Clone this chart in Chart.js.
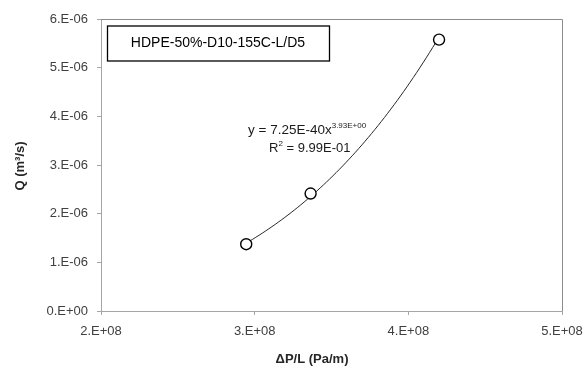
<!DOCTYPE html>
<html>
<head>
<meta charset="utf-8">
<script src="https://cdn.jsdelivr.net/npm/chart.js@4"></script>
<style>
  html, body { margin: 0; padding: 0; background: #fff; }
  #wrap { width: 583px; height: 367px; }
</style>
</head>
<body>
<div id="wrap"><canvas id="chart" width="583" height="367"></canvas></div>
<script>
// data
var pressureGrad = [2.945e8, 3.364e8, 4.200e8];   // ΔP/L (Pa/m)
var flowRate = [1.372e-6, 2.414e-6, 5.576e-6];     // Q (m3/s)
var xTicks = [2e8, 3e8, 4e8, 5e8];
var yTicks = [0, 1e-6, 2e-6, 3e-6, 4e-6, 5e-6, 6e-6];
var seriesLabel = 'HDPE-50%-D10-155C-L/D5';
var xTitle = 'ΔP/L (Pa/m)';
var yTitle = 'Q (m³/s)';
var eqText = 'y = 7.25E-40x';
var eqExp = '3.93E+00';
var r2Text = ' = 9.99E-01';

// power trendline (least squares in log-log, like the spreadsheet does)
var fitPower = function(xs, ys) {
  var n = xs.length, sx = 0, sy = 0, sxx = 0, sxy = 0;
  for (var i = 0; i < n; i++) {
    var lx = Math.log(xs[i]), ly = Math.log(ys[i]);
    sx += lx; sy += ly; sxx += lx * lx; sxy += lx * ly;
  }
  var b = (n * sxy - sx * sy) / (n * sxx - sx * sx);
  var a = Math.exp((sy - b * sx) / n);
  return { a: a, b: b };
};
var fit = fitPower(pressureGrad, flowRate);
var trend = [];
var x0 = pressureGrad[0], x1 = pressureGrad[pressureGrad.length - 1];
for (var k = 0; k <= 60; k++) {
  var xv = x0 + (x1 - x0) * k / 60;
  trend.push({ x: xv, y: fit.a * Math.pow(xv, fit.b) });
}

var points = pressureGrad.map(function(v, i) { return { x: v, y: flowRate[i] }; });

var sciLabel = function(v) {
  if (v === 0) return '0.E+00';
  var e = Math.floor(Math.log10(Math.abs(v)) + 1e-9);
  var m = Math.round(v / Math.pow(10, e));
  var ae = Math.abs(e);
  return m + '.E' + (e < 0 ? '-' : '+') + (ae < 10 ? '0' : '') + ae;
};

var tickColor = '#404040';
var axisColor = '#a6a6a6';
var baseFont = 'Liberation Sans';

var boxPlugin = {
  id: 'extras',
  beforeDatasetsDraw: function(chart) {
    var ctx = chart.ctx, ca = chart.chartArea;
    ctx.save();
    ctx.strokeStyle = '#8c8c8c';
    ctx.lineWidth = 1;
    ctx.beginPath();
    ctx.moveTo(Math.round(ca.left), Math.round(ca.top) + 0.5);
    ctx.lineTo(Math.round(ca.right) + 0.5, Math.round(ca.top) + 0.5);
    ctx.lineTo(Math.round(ca.right) + 0.5, Math.round(ca.bottom));
    ctx.stroke();
    ctx.restore();
  },
  afterDraw: function(chart) {
    var ctx = chart.ctx;
    ctx.save();
    // legend box
    ctx.strokeStyle = '#000';
    ctx.lineWidth = 1.3;
    ctx.strokeRect(107.5, 26, 222, 35);
    ctx.fillStyle = '#000';
    ctx.font = '14px "' + baseFont + '"';
    ctx.textAlign = 'center';
    ctx.textBaseline = 'middle';
    ctx.fillText(seriesLabel, 218, 43);

    // axis titles
    ctx.fillStyle = '#262626';
    ctx.font = 'bold 13px "' + baseFont + '"';
    ctx.fillText(xTitle, 312, 359);
    ctx.save();
    ctx.translate(20, 166);
    ctx.rotate(-Math.PI / 2);
    ctx.fillText(yTitle, 0, 0);
    ctx.restore();

    // trendline equation
    ctx.fillStyle = '#1a1a1a';
    ctx.textAlign = 'left';
    ctx.textBaseline = 'alphabetic';
    ctx.font = '13.5px "' + baseFont + '"';
    ctx.fillText(eqText, 248, 134);
    var w = ctx.measureText(eqText).width;
    ctx.font = '8px "' + baseFont + '"';
    ctx.fillText(eqExp, 248 + w, 128);
    ctx.font = '13px "' + baseFont + '"';
    ctx.fillText('R', 269, 152);
    var wr = ctx.measureText('R').width;
    ctx.font = '8px "' + baseFont + '"';
    ctx.fillText('2', 269 + wr, 146);
    var w2 = ctx.measureText('2').width;
    ctx.font = '13px "' + baseFont + '"';
    ctx.fillText(r2Text, 269 + wr + w2, 152);
    ctx.restore();
  }
};

var chart = new Chart(document.getElementById('chart'), {
  type: 'scatter',
  data: {
    datasets: [
      {
        label: 'points',
        data: points,
        pointStyle: 'circle',
        pointRadius: 5.5,
        pointHoverRadius: 5.5,
        pointBorderWidth: 1.4,
        pointBorderColor: '#000',
        pointBackgroundColor: '#fff',
        showLine: false,
        order: 1
      },
      {
        label: 'trend',
        data: trend,
        showLine: true,
        borderColor: '#262626',
        borderWidth: 1,
        pointRadius: 0,
        fill: false,
        order: 2
      }
    ]
  },
  options: {
    responsive: false,
    animation: false,
    events: [],
    layout: { padding: { top: 19, right: 21, left: 0, bottom: 0 } },
    plugins: { legend: { display: false }, tooltip: { enabled: false } },
    scales: {
      x: {
        type: 'linear',
        min: 2e8,
        max: 5e8,
        afterBuildTicks: function(scale) {
          scale.ticks = xTicks.map(function(v) { return { value: v }; });
        },
        afterFit: function(scale) {
          scale.height = 56;
          scale.paddingLeft = 0;
          scale.paddingRight = 0;
        },
        grid: { drawOnChartArea: false, drawTicks: true, tickLength: 4, color: axisColor },
        border: { display: true, color: axisColor },
        ticks: {
          padding: 9,
          color: tickColor,
          font: { family: baseFont, size: 13 },
          maxRotation: 0,
          callback: function(v) { return sciLabel(v); }
        }
      },
      y: {
        type: 'linear',
        min: 0,
        max: 6e-6,
        afterBuildTicks: function(scale) {
          scale.ticks = yTicks.map(function(v) { return { value: v }; });
        },
        afterFit: function(scale) {
          scale.width = 101;
          scale.paddingTop = 0;
          scale.paddingBottom = 0;
        },
        grid: { drawOnChartArea: false, drawTicks: true, tickLength: 4, color: axisColor },
        border: { display: true, color: axisColor },
        ticks: {
          padding: 9,
          color: tickColor,
          font: { family: baseFont, size: 13 },
          callback: function(v) { return sciLabel(v); }
        }
      }
    }
  },
  plugins: [boxPlugin]
});
</script>
</body>
</html>
